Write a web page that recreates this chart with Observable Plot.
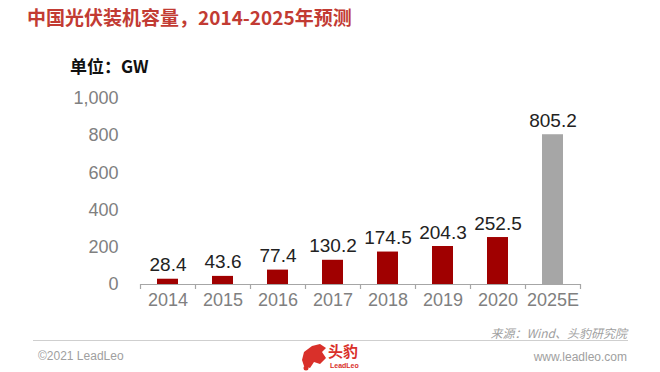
<!DOCTYPE html>
<html>
<head>
<meta charset="utf-8">
<script src="https://cdn.jsdelivr.net/npm/d3@7"></script>
<script src="https://cdn.jsdelivr.net/npm/@observablehq/plot@0.6"></script>
<style>
  html, body { margin: 0; padding: 0; background: #fff; }
  #wrap { position: relative; width: 660px; height: 372px; overflow: hidden; background: #fff;
          font-family: "Noto Sans CJK SC", "Liberation Sans", sans-serif; }
  #chart { position: absolute; left: 0; top: 0; }
  .abs { position: absolute; white-space: nowrap; }
  #title { left: 27px; top: 4px; font-size: 19px; font-weight: bold; color: #c23b33; line-height: 26px; }
  #unit { left: 70px; top: 53px; font-size: 17px; font-weight: bold; color: #111; line-height: 26px; }
  #source { right: 33px; top: 325px; font-size: 12px; font-style: italic; color: #a0a0a0; line-height: 16px; }
  #line { left: 33px; top: 340px; width: 595px; height: 1px; background: #cfcfcf; }
  #copy { left: 38px; top: 348px; font-size: 12px; color: #a0a0a0; line-height: 16px; font-family: "Liberation Sans", sans-serif; }
  #web { right: 33px; top: 349px; font-size: 12px; color: #a0a0a0; line-height: 16px; font-family: "Liberation Sans", sans-serif; }
  #logo { left: 300px; top: 342px; width: 66px; height: 30px; }
  #logo .cn { position: absolute; left: 28px; top: 0px; font-size: 15px; font-weight: bold; color: #d9302a; line-height: 17px; }
  #logo .en { position: absolute; left: 30px; top: 20px; font-size: 7px; font-weight: bold; color: #d9302a; line-height: 8px; font-family: "Liberation Sans", sans-serif; }
</style>
</head>
<body>
<div id="wrap">
  <div id="chart"></div>
  <div class="abs" id="title">中国光伏装机容量，2014-2025年预测</div>
  <div class="abs" id="unit">单位：GW</div>
  <div class="abs" id="source">来源：Wind、头豹研究院</div>
  <div class="abs" id="line"></div>
  <div class="abs" id="copy">©2021 LeadLeo</div>
  <div class="abs" id="web">www.leadleo.com</div>
  <div class="abs" id="logo">
    <svg width="28" height="30" viewBox="0 0 28 30" style="position:absolute;left:0;top:0">
      <path d="M4 10 L12 4 L20 2 L26 6 L22 10 L26 16 L20 22 L14 20 L10 26 L4 24 L2 18 Z" fill="#d9302a"/>
      <circle cx="6" cy="26" r="2.5" fill="#d9302a"/>
    </svg>
    <div class="cn">头豹</div>
    <div class="en">LeadLeo</div>
  </div>
</div>
<script>
const years = ["2014", "2015", "2016", "2017", "2018", "2019", "2020", "2025E"];
const capacity = [28.4, 43.6, 77.4, 130.2, 174.5, 204.3, 252.5, 805.2];
const forecastYears = ["2025E"];
const yTicks = [0, 200, 400, 600, 800, 1000];

const data = years.map((year, i) => ({year, value: capacity[i], forecast: forecastYears.includes(year)}));
const lastYear = years[years.length - 1];

const step = (660 - 140 - 80) / years.length;

const chart = Plot.plot({
  width: 660,
  height: 372,
  marginTop: 98,
  marginBottom: 88,
  marginLeft: 140,
  marginRight: 80,
  style: {fontFamily: "'Liberation Sans', Arial, sans-serif", fontSize: "18px", background: "transparent", overflow: "visible"},
  x: {domain: years, paddingInner: 0.62, paddingOuter: 0.31, label: null, tickSize: 0, tickPadding: 9},
  y: {domain: [0, 1000], ticks: yTicks, tickFormat: d3.format(","), label: null, tickSize: 0, tickPadding: 22},
  color: {type: "identity"},
  marks: [
    Plot.barY(data, {x: "year", y: "value", fill: d => d.forecast ? "#a6a6a6" : "#a00000"}),
    Plot.ruleY([0], {stroke: "#a6a6a6", strokeWidth: 1.2}),
    Plot.ruleX(years, {x: d => d, y1: 0, y2: -27, dx: -step / 2, stroke: "#a6a6a6", strokeWidth: 1.2}),
    Plot.ruleX([lastYear], {x: d => d, y1: 0, y2: -27, dx: step / 2, stroke: "#a6a6a6", strokeWidth: 1.2}),
    Plot.text(data, {x: "year", y: "value", text: d => d.value.toFixed(1), dy: -8, lineAnchor: "bottom", fill: "#222", fontSize: 19})
  ]
});
chart.querySelectorAll("[aria-label='x-axis tick label'] text, [aria-label='y-axis tick label'] text").forEach(t => t.setAttribute("fill", "#808080"));
document.getElementById("chart").appendChild(chart);
</script>
</body>
</html>
